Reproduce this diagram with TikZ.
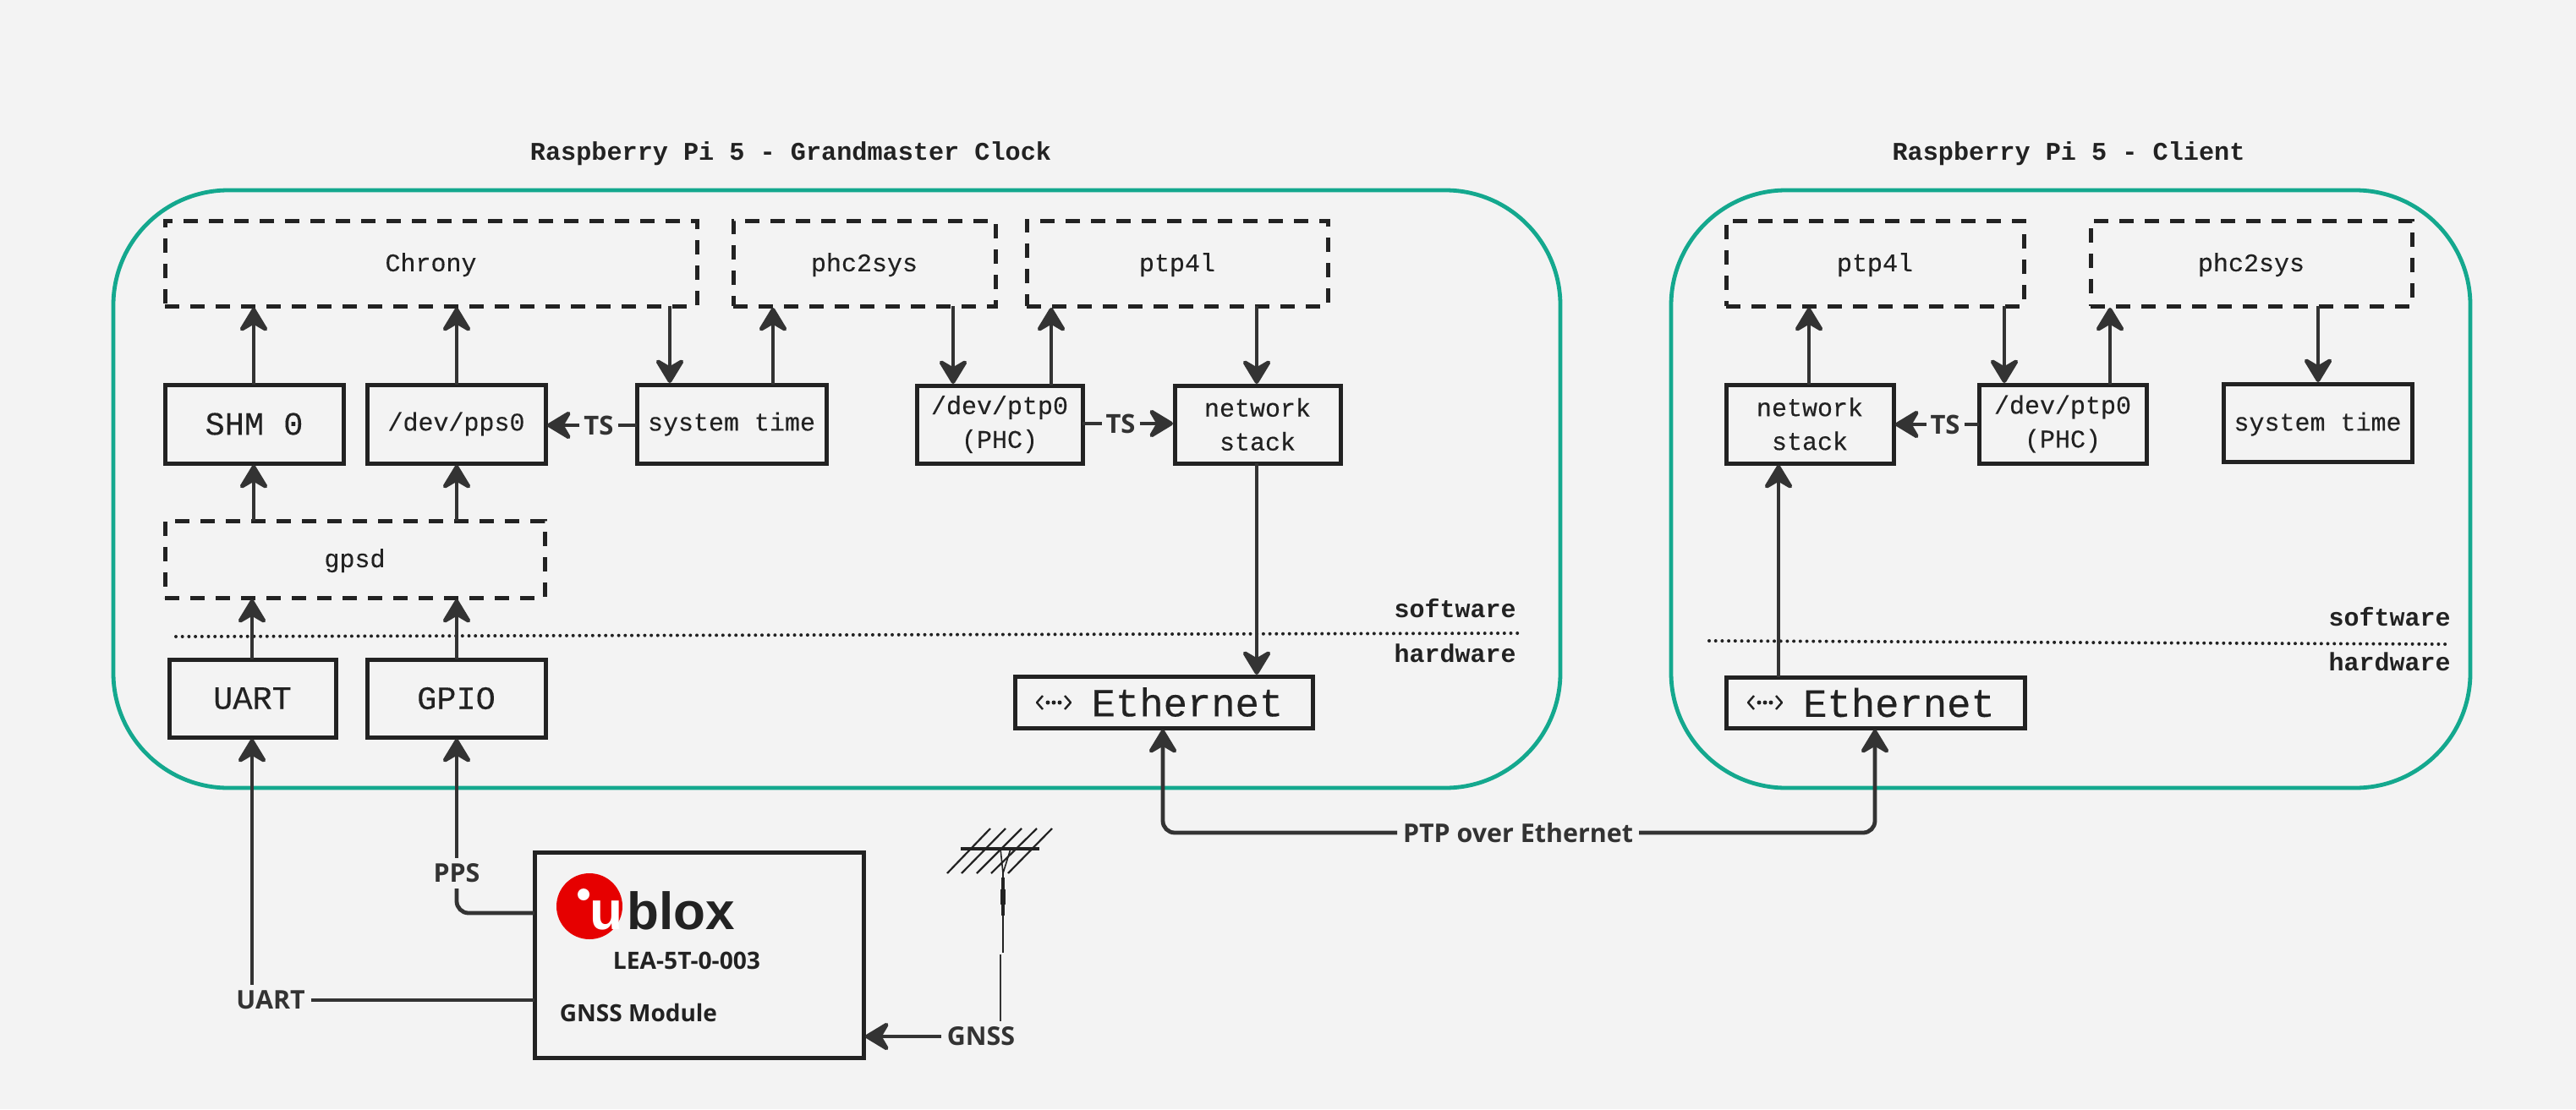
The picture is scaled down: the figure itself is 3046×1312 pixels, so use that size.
\documentclass[tikz,border=0pt]{standalone}
\usepackage{fontspec}
\setmainfont{Open Sans}
\newfontfamily\plexm[FakeBold=0.25]{Liberation Mono}
\newfontfamily\plexb{Liberation Mono}
\newfontfamily\logof{Liberation Sans}
\usetikzlibrary{arrows.meta,calc}
\definecolor{bgc}{HTML}{F3F3F3}
\definecolor{grn}{HTML}{14A88E}
\definecolor{ink}{HTML}{222222}
\definecolor{lnk}{HTML}{333333}
\definecolor{ured}{HTML}{E60000}
\newcommand{\bxn}[7]{%
  \pgfmathsetmacro\cxv{(#2+#4)/2}\pgfmathsetmacro\cyv{(#3+#5)/2}%
  \pgfmathsetmacro\wv{(#4-#2)*0.5}\pgfmathsetmacro\hv{(#5-#3)*0.5}%
  \node[#6,minimum width=\wv pt,minimum height=\hv pt] (#1) at (\cxv,\cyv) {#7};}
\newcommand{\ethicon}[1]{%
  \begin{scope}[shift={(#1,831)}]
    \draw[ink,line width=1.2pt,line join=round] (7,-8) -- (0,0) -- (7,8);
    \draw[ink,line width=1.2pt,line join=round] (33,-8) -- (40,0) -- (33,8);
    \fill[ink] (13,0) circle (1.25pt) (20,0) circle (1.25pt) (27,0) circle (1.25pt);
  \end{scope}}
\newcommand{\lowr}[1]{\rule{0pt}{12.5pt}#1}
\tikzset{
  x=0.5pt,y=-0.5pt,
  frame/.style={draw=grn,line width=2.4pt,rounded corners=68pt,inner sep=0,outer sep=0},
  solidbox/.style={draw=ink,line width=2.5pt,fill=bgc,inner sep=0,outer sep=0,align=center,text=ink,font=\plexm\fontsize{15}{20}\selectfont},
  bigbox/.style={solidbox,font=\plexm\fontsize{19.3}{23}\selectfont},
  ethbox/.style={solidbox,font=\plexm\fontsize{23.6}{28}\selectfont},
  dashbox/.style={solidbox,dash pattern=on 8.5pt off 6.5pt},
  conn/.style={draw=lnk,line width=2.4pt},
  arr/.style={conn,-{Stealth[length=17pt,width=20.5pt,inset=6pt,round]},shorten >=1pt},
  lab/.style={text=lnk,font=\bfseries\fontsize{15.2}{16}\selectfont,inner sep=1pt,outer sep=2.5pt},
  tslab/.style={text=lnk,font=\bfseries\fontsize{15.5}{16}\selectfont,inner sep=0.5pt,outer sep=2pt},
  title/.style={text=ink,font=\plexb\bfseries\fontsize{15.1}{18}\selectfont,inner sep=0},
  layer/.style={text=ink,font=\plexb\bfseries\fontsize{15}{18}\selectfont,inner sep=0,anchor=east},
  dotline/.style={draw=ink,line width=2pt,line cap=round,dash pattern=on 0pt off 3.85pt},
}
\begin{document}
\begin{tikzpicture}
\useasboundingbox[fill=bgc] (0,0) rectangle (3046,1312);
% frames
\bxn{gm}{134}{225}{1845}{932}{frame}{}
\bxn{cl}{1976}{225}{2921}{932}{frame}{}
\node[title] (tgm) at (935,182) {Raspberry Pi 5 - Grandmaster Clock};
\node[title] (tcl) at (2446,182) {Raspberry Pi 5 - Client};
% dotted lines
\coordinate (dga) at (208,753); \coordinate (dgb) at (1796,749);
\draw[dotline] (dga) -- (dgb);
\coordinate (dca) at (2021,758); \coordinate (dcb) at (2893,762);
\draw[dotline] (dca) -- (dcb);
\node[layer] (sg) at (1793,720) {software};
\node[layer] (hg) at (1793,773) {hardware};
\node[layer] (sc) at (2898,730) {software};
\node[layer] (hc) at (2898,783) {hardware};
% grandmaster boxes
\bxn{chrony}{195}{261}{824}{362}{dashbox}{\lowr{Chrony}}
\bxn{phcg}{867}{261}{1177}{362}{dashbox}{\lowr{phc2sys}}
\bxn{ptpg}{1214}{261}{1570}{362}{dashbox}{\lowr{ptp4l}}
\bxn{shm}{195}{455}{406}{548}{bigbox}{SHM 0}
\bxn{pps}{434}{455}{645}{548}{solidbox}{/dev/pps0}
\bxn{sysg}{753}{455}{977}{548}{solidbox}{\rule{0pt}{11pt}system time}
\bxn{phcdg}{1084}{456}{1280}{548}{solidbox}{/dev/ptp0\\(PHC)}
\bxn{netg}{1389}{456}{1585}{548}{solidbox}{network\\stack}
\bxn{gpsd}{195}{616}{644}{707}{dashbox}{\lowr{gpsd}}
\bxn{uart}{200}{780}{397}{872}{bigbox}{UART}
\bxn{gpio}{434}{780}{645}{872}{bigbox}{GPIO}
\bxn{ethg}{1200}{800}{1552}{861}{ethbox}{\hspace*{28pt}Ethernet}
\ethicon{1226}
% client boxes
\bxn{ptpc}{2041}{261}{2393}{362}{dashbox}{\lowr{ptp4l}}
\bxn{phcc}{2472}{261}{2852}{362}{dashbox}{\lowr{phc2sys}}
\bxn{netc}{2041}{455}{2239}{548}{solidbox}{network\\stack}
\bxn{phcdc}{2340}{455}{2538}{548}{solidbox}{/dev/ptp0\\(PHC)}
\bxn{sysc}{2629}{454}{2852}{546}{solidbox}{\lowr{system time}}
\bxn{ethc}{2041}{801}{2394}{861}{ethbox}{\hspace*{28pt}Ethernet}
\ethicon{2067}
% module
\bxn{module}{632}{1008}{1021}{1251}{solidbox}{}
% x guides
\foreach \n/\v in {xa/300,xb/540,xc/792,xd/914,xe/1127,xf/1243,xg/1486,xh/298,xi/2139,xj/2370,xk/2495,xl/2741,xm/2103,xn/1375,xo/2217}
  \coordinate (\n) at (\v,0);
% grandmaster connectors
\draw[arr] (shm.north -| xa) -- (chrony.south -| xa);
\draw[arr] (pps.north -| xb) -- (chrony.south -| xb);
\draw[arr] (chrony.south -| xc) -- (sysg.north -| xc);
\draw[arr] (sysg.north -| xd) -- (phcg.south -| xd);
\draw[arr] (phcg.south -| xe) -- (phcdg.north -| xe);
\draw[arr] (phcdg.north -| xf) -- (ptpg.south -| xf);
\draw[arr] (ptpg.south -| xg) -- (netg.north -| xg);
\draw[arr] (netg.south -| xg) -- (ethg.north -| xg);
\draw[arr] (gpsd.north -| xa) -- (shm.south -| xa);
\draw[arr] (gpsd.north -| xb) -- (pps.south -| xb);
\draw[arr] (uart.north -| xh) -- (gpsd.south -| xh);
\draw[arr] (gpio.north -| xb) -- (gpsd.south -| xb);
\node[tslab] (tsa) at (708,503) {TS};
\draw[conn] (sysg.west |- tsa) -- (tsa.east);
\draw[arr] (tsa.west) -- (pps.east |- tsa);
\node[tslab] (tsb) at (1325,501) {TS};
\draw[conn] (phcdg.east |- tsb) -- (tsb.west);
\draw[arr] (tsb.east) -- (netg.west |- tsb);
% client connectors
\draw[arr] (netc.north -| xi) -- (ptpc.south -| xi);
\draw[arr] (ptpc.south -| xj) -- (phcdc.north -| xj);
\draw[arr] (phcdc.north -| xk) -- (phcc.south -| xk);
\draw[arr] (phcc.south -| xl) -- (sysc.north -| xl);
\draw[arr] (ethc.north -| xm) -- (netc.south -| xm);
\node[tslab] (tsc) at (2300,502) {TS};
\draw[conn] (phcdc.west |- tsc) -- (tsc.east);
\draw[arr] (tsc.west) -- (netc.east |- tsc);
% PTP link
\node[lab] (ptpl) at (1795,985) {PTP over Ethernet};
\draw[arr,rounded corners=7pt] (ptpl.west) -| (ethg.south -| xn);
\draw[arr,rounded corners=7pt] (ptpl.east) -| (ethc.south -| xo);
% module connectors
\node[lab] (uartl) at (320,1183) {UART};
\draw[conn] (uartl.east) -- (uartl.east -| module.west);
\draw[arr] (uartl.north -| xh) -- (uart.south -| xh);
\node[lab] (ppsl) at (540,1033) {PPS};
\draw[arr] (ppsl.north) -- (gpio.south -| ppsl.north);
\coordinate (ppsend) at (632,1080);
\draw[conn,rounded corners=7pt] (ppsl.south) |- (ppsend);
\node[lab] (gnssl) at (1160,1226) {GNSS};
\draw[arr] (gnssl.west) -- (module.east |- gnssl.west);
% antenna
\coordinate (anta) at (1136,1004); \coordinate (antb) at (1229,1004);
\coordinate (antc) at (1186,1127); \coordinate (antd) at (1186,1004);
\draw[ink,line width=1.8pt] (anta) -- (antb);
\foreach \xa/\xb in {1120/1171,1137/1189,1155/1208,1172/1226,1192/1244}
  \draw[ink,line width=1.1pt] (\xa,1033) -- (\xb,980);
\draw[ink,line width=0.8pt] (1183,1004) -- (1186,1033) -- (1195,1004);
\draw[ink,line width=1.1pt] (1186,1033) -- (antc);
\draw[ink,line width=1.6pt] (1186,1038) -- (1186,1083);
\draw[ink,line width=3.2pt] (1186,1052) -- (1186,1070);
\coordinate (gnssup) at (1183,1129);
\draw[lnk,line width=1.2pt] (gnssl.north -| gnssup) -- (gnssup);
% logo
\node[circle,fill=ured,minimum size=39pt,inner sep=0,outer sep=0] (ulogo) at (697,1072) {};
\node[text=white,inner sep=0,anchor=base west,font=\logof\bfseries\fontsize{32}{32}\selectfont] (uletter) at (697,1099) {u};
\node[circle,fill=white,minimum size=7pt,inner sep=0] (udot) at (690,1058) {};
\node[text=ink,inner sep=0,anchor=base west,font=\logof\bfseries\fontsize{31}{31}\selectfont] (blox) at (741,1099) {blox};
\node[text=ink,inner sep=0,font=\bfseries\fontsize{14.1}{15}\selectfont] (lea) at (812,1136) {LEA-5T-0-003};
\node[text=ink,inner sep=0,font=\bfseries\fontsize{14}{16}\selectfont] (gmod) at (755,1198) {GNSS Module};
\end{tikzpicture}
\end{document}
